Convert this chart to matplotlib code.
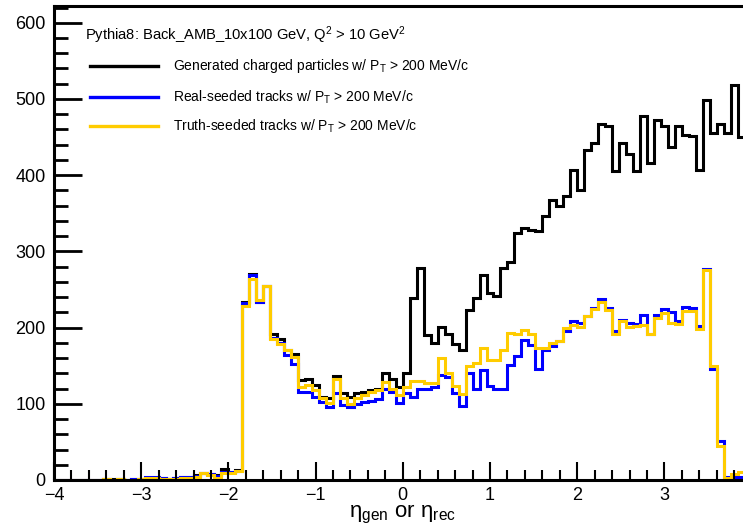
import numpy as np
import matplotlib
matplotlib.use('Agg')
from matplotlib import pyplot as plt
from matplotlib.lines import Line2D
from matplotlib.ticker import MultipleLocator, FixedLocator

plt.rcParams['font.family'] = ['Liberation Sans', 'DejaVu Sans']
plt.rcParams['mathtext.fontset'] = 'custom'
plt.rcParams['mathtext.rm'] = 'Liberation Sans'
plt.rcParams['mathtext.it'] = 'Liberation Sans:italic'

# 100 bins in eta from -4 to 4
eta_edges = np.linspace(-4, 4, 101)

gen_counts = [
    0, 0, 0, 0, 0, 0, 0, 1, 1, 1,
    0, 1, 1, 3, 3, 2, 1, 2, 4, 4,
    6, 9, 8, 6, 14, 11, 13, 233, 270, 234,
    255, 192, 185, 170, 165, 131, 133, 125, 109, 107,
    136, 114, 109, 114, 116, 118, 119, 140, 132, 122,
    140, 239, 278, 190, 180, 201, 192, 178, 171, 223,
    239, 269, 246, 241, 278, 286, 324, 331, 328, 327,
    347, 367, 359, 373, 407, 380, 433, 442, 467, 465,
    405, 442, 428, 406, 477, 416, 473, 464, 437, 465,
    453, 451, 407, 499, 455, 467, 455, 518, 450, 450,
]

real_seeded = [
    0, 0, 0, 0, 0, 0, 0, 1, 0, 1,
    0, 1, 1, 4, 4, 2, 1, 2, 4, 4,
    5, 9, 8, 5, 10, 10, 12, 232, 269, 234,
    255, 186, 180, 164, 152, 115, 116, 109, 103, 96,
    114, 98, 96, 100, 103, 104, 106, 120, 116, 101,
    114, 109, 120, 119, 122, 138, 135, 114, 97, 140,
    120, 145, 124, 120, 120, 151, 163, 184, 177, 146,
    170, 176, 182, 195, 208, 206, 215, 226, 237, 226,
    195, 210, 206, 205, 217, 192, 216, 224, 221, 208,
    227, 226, 202, 277, 146, 51, 4, 4, 4, 4,
]

truth_seeded = [
    0, 0, 0, 0, 0, 0, 0, 1, 0, 1,
    0, 0, 1, 2, 2, 1, 1, 1, 2, 2,
    4, 9, 6, 3, 9, 9, 12, 228, 264, 236,
    255, 185, 179, 170, 162, 122, 125, 118, 107, 101,
    132, 107, 100, 107, 111, 115, 118, 128, 120, 111,
    122, 130, 130, 127, 127, 160, 140, 123, 113, 150,
    154, 173, 158, 158, 171, 193, 192, 197, 191, 173,
    173, 180, 183, 199, 203, 201, 215, 224, 233, 223,
    192, 209, 201, 202, 203, 192, 212, 219, 206, 205,
    222, 222, 198, 276, 149, 44, 2, 8, 10, 10,
]

x_ticks = [-4, -3, -2, -1, 0, 1, 2, 3]

header = r'Pythia8: Back_AMB_10x100 GeV, Q$^2$ > 10 GeV$^2$'
labels = [
    r'Generated charged particles w/ P$_{\rm T}$ > 200 MeV/c',
    r'Real-seeded tracks w/ P$_{\rm T}$ > 200 MeV/c',
    r'Truth-seeded tracks w/ P$_{\rm T}$ > 200 MeV/c',
]
colors = ['black', '#0000ff', '#ffcc00']

W, H = 743, 529
fig = plt.figure(figsize=(W / 100, H / 100), dpi=100)
# the frame runs past the right edge of the canvas
ax = fig.add_axes([54 / W, (H - 480) / H, 697.6 / W, 474 / H])

for counts, color in zip([gen_counts, real_seeded, truth_seeded], colors):
    ax.stairs(counts, eta_edges, color=color, lw=2.2)

ax.set_xlim(-4, 4)
ax.set_ylim(0, 622)
ax.xaxis.set_major_locator(FixedLocator(x_ticks))
ax.xaxis.set_minor_locator(MultipleLocator(0.2))
ax.yaxis.set_major_locator(MultipleLocator(100))
ax.yaxis.set_minor_locator(MultipleLocator(20))
ax.tick_params(which='major', axis='y', direction='in', length=20, width=2,
               labelsize=13, pad=6)
ax.tick_params(which='minor', axis='y', direction='in', length=10, width=2)
ax.tick_params(which='major', axis='x', direction='in', length=13, width=1.5,
               labelsize=13, pad=5)
ax.tick_params(which='minor', axis='x', direction='in', length=7, width=1.5)
for side in ['left', 'bottom', 'top', 'right']:
    ax.spines[side].set_linewidth(2.2)

fig.text(403 / W, 1 - 514 / H, r'η$_{\rm gen}$ or η$_{\rm rec}$',
         fontsize=16, ha='center', va='center')

# legend block
fig.text(85 / W, 1 - 35 / H, header, fontsize=10.6, va='center')
for ypix, label, color in zip([66, 97, 126], labels, colors):
    fig.add_artist(Line2D([90 / W, 158 / W], [1 - ypix / H, 1 - ypix / H],
                          color=color, lw=2.4))
    fig.text(173 / W, 1 - ypix / H, label, fontsize=10, va='center')

fig.savefig('out.png', dpi=100)
